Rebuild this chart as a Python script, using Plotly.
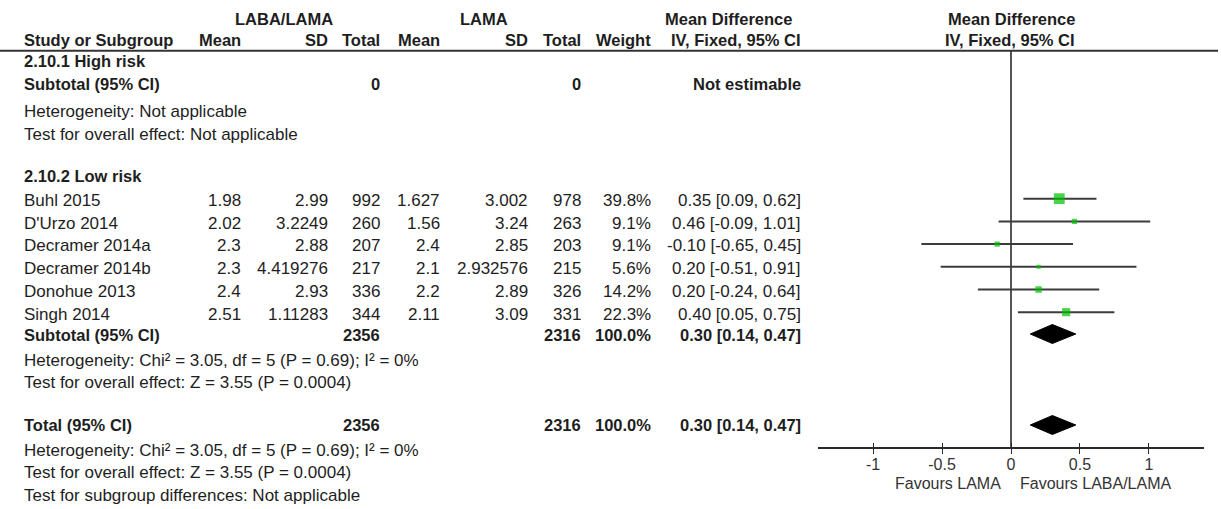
import plotly.graph_objects as go

# ---- study data (low-risk subgroup) ----
studies = ["Buhl 2015", "D'Urzo 2014", "Decramer 2014a", "Decramer 2014b",
           "Donohue 2013", "Singh 2014"]
laba_mean = [1.98, 2.02, 2.3, 2.3, 2.4, 2.51]
laba_sd = [2.99, 3.2249, 2.88, 4.419276, 2.93, 1.11283]
laba_n = [992, 260, 207, 217, 336, 344]
lama_mean = [1.627, 1.56, 2.4, 2.1, 2.2, 2.11]
lama_sd = [3.002, 3.24, 2.85, 2.932576, 2.89, 3.09]
lama_n = [978, 263, 203, 215, 326, 331]
weight = [39.8, 9.1, 9.1, 5.6, 14.2, 22.3]
md = [0.35, 0.46, -0.10, 0.20, 0.20, 0.40]
ci_lo = [0.09, -0.09, -0.65, -0.51, -0.24, 0.05]
ci_hi = [0.62, 1.01, 0.45, 0.91, 0.64, 0.75]

# pooled fixed-effect estimate (subtotal and total are identical)
pooled_md, pooled_lo, pooled_hi = 0.30, 0.14, 0.47
pooled_weight = 100.0

tick_vals = [-1, -0.5, 0, 0.5, 1]
tick_text = ["-1", "-0.5", "0", "0.5", "1"]

het_text = "Heterogeneity: Chi\u00b2 = 3.05, df = 5 (P = 0.69); I\u00b2 = 0%"
overall_text = "Test for overall effect: Z = 3.55 (P = 0.0004)"

# ---- page geometry (pixels) ----
W, H = 1221, 509
AXIS_Y = 448
HEADER_LINE_Y = 50.7
PLOT_X0, PLOT_X1 = 818, 1204

TEXT = "#1e1e1e"
FONT = "Liberation Sans, Arial, sans-serif"
REG = 17
BOLD = 16.5

# column right edges
C_NAME = 22
C_M1, C_SD1, C_N1 = 243, 330, 382
C_M2, C_SD2, C_N2 = 442, 530, 583
C_W, C_CI = 653, 803

study_y0, study_dy = 200.5, 22.7
study_rows = [study_y0 + i * study_dy for i in range(len(studies))]
MARK_OFF = -1.8

fig = go.Figure()
annotations = []


def txt(x, y, s, anchor="right", bold=False, size=None, color=TEXT):
    annotations.append(dict(
        x=x / W, y=1 - y / H, xref="paper", yref="paper",
        text=f"<b>{s}</b>" if bold else s, showarrow=False,
        xanchor=anchor, yanchor="middle",
        font=dict(family=FONT, size=size or (BOLD if bold else REG), color=color),
    ))


# headers
HDR1, HDR2 = 18.5, 39.5
txt(284, HDR1, "LABA/LAMA", "center", True)
txt(484, HDR1, "LAMA", "center", True)
txt(728, HDR1, "Mean Difference", "center", True)
txt(1011, HDR1, "Mean Difference", "center", True)
for x, s in [(C_M1, "Mean"), (C_SD1, "SD"), (C_N1, "Total"), (C_M2, "Mean"),
             (C_SD2, "SD"), (C_N2, "Total"), (C_W, "Weight"),
             (C_CI, "IV, Fixed, 95% CI")]:
    txt(x, HDR2, s, "right", True)
txt(C_NAME, HDR2, "Study or Subgroup", "left", True)
txt(1010, HDR2, "IV, Fixed, 95% CI", "center", True)

# subgroup 2.10.1
txt(C_NAME, 61, "2.10.1 High risk", "left", True)
txt(C_NAME, 84.5, "Subtotal (95% CI)", "left", True)
txt(C_N1, 84.5, "0", "right", True)
txt(C_N2, 84.5, "0", "right", True)
txt(C_CI, 84.5, "Not estimable", "right", True)
txt(C_NAME, 112, "Heterogeneity: Not applicable", "left")
txt(C_NAME, 134, "Test for overall effect: Not applicable", "left")

# subgroup 2.10.2
txt(C_NAME, 176, "2.10.2 Low risk", "left", True)
for i, y in enumerate(study_rows):
    txt(C_NAME, y, studies[i], "left")
    txt(C_M1, y, str(laba_mean[i]))
    txt(C_SD1, y, str(laba_sd[i]))
    txt(C_N1, y, str(laba_n[i]))
    txt(C_M2, y, str(lama_mean[i]))
    txt(C_SD2, y, str(lama_sd[i]))
    txt(C_N2, y, str(lama_n[i]))
    txt(C_W, y, f"{weight[i]:.1f}%")
    txt(C_CI, y, f"{md[i]:.2f} [{ci_lo[i]:.2f}, {ci_hi[i]:.2f}]")

pooled_label = f"{pooled_md:.2f} [{pooled_lo:.2f}, {pooled_hi:.2f}]"
for label, y in [("Subtotal (95% CI)", 334.5), ("Total (95% CI)", 425)]:
    txt(C_NAME, y, label, "left", True)
    txt(C_N1, y, str(sum(laba_n)), "right", True)
    txt(C_N2, y, str(sum(lama_n)), "right", True)
    txt(C_W, y, f"{pooled_weight:.1f}%", "right", True)
    txt(C_CI, y, pooled_label, "right", True)
txt(C_NAME, 360, het_text, "left")
txt(C_NAME, 382, overall_text, "left")
txt(C_NAME, 450, het_text, "left")
txt(C_NAME, 472, overall_text, "left")
txt(C_NAME, 495, "Test for subgroup differences: Not applicable", "left")

# favours labels under the axis
txt(1003, 483, "Favours LAMA", "right", size=16, color="#333")
txt(1018, 483, "Favours LABA/LAMA", "left", size=16, color="#333")

# ---- forest plot marks ----
# line of no effect
fig.add_trace(go.Scatter(x=[0, 0], y=[HEADER_LINE_Y, AXIS_Y], mode="lines",
                         line=dict(color="#2a2a2a", width=1.6),
                         hoverinfo="skip", showlegend=False))

# confidence intervals
for i, y in enumerate(study_rows):
    fig.add_trace(go.Scatter(x=[ci_lo[i], ci_hi[i]], y=[y + MARK_OFF] * 2,
                             mode="lines", line=dict(color="#3c3c3c", width=2),
                             hoverinfo="skip", showlegend=False))

# point estimates, square size scaled by weight
fig.add_trace(go.Scatter(
    x=md, y=[y + MARK_OFF for y in study_rows], mode="markers",
    marker=dict(symbol="square", color="#00c000",
                size=[1.72 * w ** 0.5 for w in weight], line=dict(width=0)),
    hoverinfo="skip", showlegend=False))

# pooled diamonds
for yc in [334, 425]:
    h = 9.5
    fig.add_trace(go.Scatter(
        x=[pooled_lo, pooled_md, pooled_hi, pooled_md, pooled_lo],
        y=[yc, yc - h, yc, yc + h, yc], mode="lines", fill="toself",
        fillcolor="#000000", line=dict(color="#000000", width=1),
        hoverinfo="skip", showlegend=False))

# companion axis for the upper half of the tick marks
fig.add_trace(go.Scatter(x=[0], y=[AXIS_Y], xaxis="x2", mode="markers",
                         marker=dict(opacity=0), hoverinfo="skip", showlegend=False))

axis_pos = 1 - AXIS_Y / H
dom = [PLOT_X0 / W, PLOT_X1 / W]
fig.update_layout(
    width=W, height=H, margin=dict(l=0, r=0, t=0, b=0),
    paper_bgcolor="white", plot_bgcolor="white",
    xaxis=dict(domain=dom, range=[-1.4, 1.4], anchor="free", position=axis_pos,
               showline=True, linecolor="#2a2a2a", linewidth=1.6,
               ticks="outside", ticklen=5, tickwidth=1.3, tickcolor="#2a2a2a",
               tickvals=tick_vals, ticktext=tick_text, showgrid=False,
               zeroline=False, ticklabelstandoff=-3,
               tickfont=dict(family=FONT, size=16, color="#333")),
    xaxis2=dict(domain=dom, range=[-1.4, 1.4], anchor="free", position=axis_pos,
                overlaying="x", side="bottom", ticks="inside", ticklen=5,
                tickwidth=1.3, tickcolor="#2a2a2a", tickvals=tick_vals,
                showticklabels=False, showline=False, showgrid=False,
                zeroline=False),
    yaxis=dict(domain=[0, 1], range=[H, 0], visible=False, showgrid=False,
               zeroline=False),
    shapes=[dict(type="line", xref="paper", yref="paper", x0=0, x1=1218 / W,
                 y0=1 - HEADER_LINE_Y / H, y1=1 - HEADER_LINE_Y / H,
                 line=dict(color="#333", width=2))],
    annotations=annotations,
)

fig.write_html("out.html")
